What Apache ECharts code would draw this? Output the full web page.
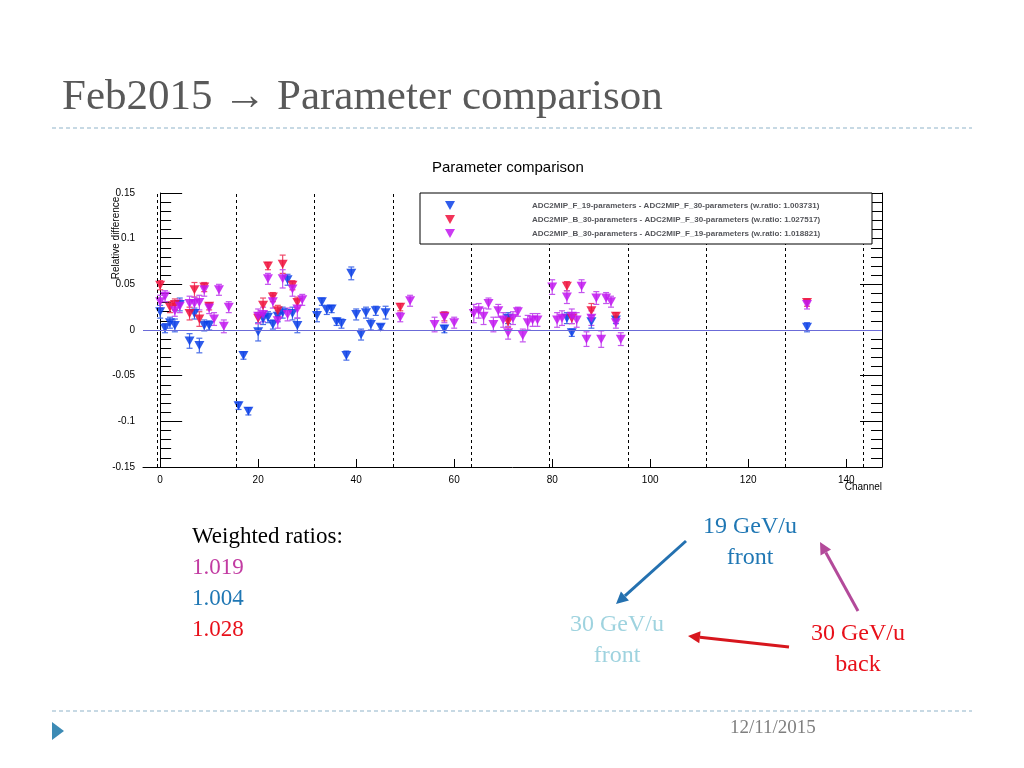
<!DOCTYPE html>
<html><head><meta charset="utf-8">
<script src="https://cdn.jsdelivr.net/npm/echarts@6/dist/echarts.min.js"></script>
<style>body{margin:0;background:#fff}#c{width:1024px;height:768px}</style>
</head><body><div id="c"></div>
<script>
// [channel, relative difference, error]
var blueF19F30 = [[0,0.020,0.007],[1,0.002,0.005],[2,0.008,0.006],[3,0.005,0.007],[4,0.028,0.007],[6,-0.012,0.008],[8,-0.017,0.008],[7,0.018,0.006],[9,0.005,0.006],[10,0.005,0.005],
  [16,-0.083,0.004],[17,-0.028,0.004],[18,-0.089,0.004],[20,-0.002,0.01],[21,0.012,0.006],[22,0.014,0.006],[23,0.006,0.005],[24,0.015,0.006],[25,0.019,0.006],[26,0.055,0.006],[27,0.018,0.007],[28,0.005,0.008],
  [32,0.016,0.007],[33,0.031,0.004],[34,0.022,0.005],[35,0.023,0.004],[36,0.009,0.004],[37,0.007,0.005],[38,-0.028,0.005],[39,0.062,0.007],[40,0.017,0.006],[41,-0.005,0.006],[42,0.019,0.006],[43,0.006,0.006],[44,0.021,0.005],[45,0.003,0.003],[46,0.019,0.007],
  [58,0.001,0.004],[71,0.013,0.006],[83,0.013,0.006],[84,-0.003,0.004],[88,0.009,0.007],[93,0.011,0.004],[132,0.003,0.005]];
var redB30F30 = [[0,0.049,0.005],[2,0.025,0.006],[3,0.028,0.006],[6,0.018,0.007],[7,0.044,0.008],[8,0.012,0.008],[9,0.047,0.005],[10,0.026,0.004],
  [20,0.013,0.006],[21,0.027,0.008],[22,0.070,0.004],[23,0.036,0.005],[24,0.021,0.006],[25,0.072,0.01],[27,0.049,0.005],[28,0.030,0.006],
  [49,0.025,0.004],[58,0.015,0.005],[71,0.009,0.006],[83,0.048,0.005],[84,0.013,0.006],[88,0.021,0.008],[93,0.015,0.004],[132,0.030,0.004]];
var magB30F19 = [[0,0.031,0.007],[1,0.037,0.006],[3,0.021,0.006],[4,0.026,0.007],[6,0.029,0.008],[7,0.029,0.007],[8,0.030,0.008],[9,0.044,0.007],[10,0.024,0.006],[11,0.012,0.007],[12,0.044,0.006],[13,0.004,0.007],[14,0.025,0.006],
  [20,0.015,0.008],[21,0.017,0.008],[22,0.056,0.006],[23,0.031,0.007],[24,0.010,0.008],[25,0.056,0.01],[26,0.017,0.007],[27,0.045,0.008],[28,0.023,0.01],[29,0.033,0.006],
  [49,0.014,0.005],[51,0.032,0.006],[56,0.006,0.008],[58,0.014,0.006],[60,0.008,0.006],
  [64,0.018,0.01],[65,0.021,0.008],[66,0.015,0.009],[67,0.029,0.006],[68,0.006,0.008],[69,0.021,0.007],[70,0.011,0.008],[71,-0.003,0.007],[72,0.013,0.007],[73,0.020,0.005],[74,-0.006,0.007],[75,0.008,0.008],[76,0.011,0.007],[77,0.011,0.007],
  [80,0.047,0.008],[81,0.011,0.008],[82,0.013,0.008],[83,0.036,0.007],[84,0.015,0.008],[85,0.011,0.008],[86,0.048,0.007],[87,-0.010,0.008],[88,0.013,0.008],[89,0.035,0.007],[90,-0.010,0.009],[91,0.035,0.006],[92,0.031,0.006],[93,0.008,0.006],[94,-0.010,0.007],[132,0.028,0.005]];
var seriesNames = ['ADC2MIP_F_19-parameters - ADC2MIP_F_30-parameters (w.ratio: 1.003731)',
  'ADC2MIP_B_30-parameters - ADC2MIP_F_30-parameters (w.ratio: 1.027517)',
  'ADC2MIP_B_30-parameters - ADC2MIP_F_19-parameters (w.ratio: 1.018821)'];
var boardEdges = [-0.5,15.5,31.5,47.5,63.5,79.5,95.5,111.5,127.5,143.5];
var xTicks = [0,20,40,60,80,100,120,140];

var tri = 'path://M0,0 L10,0 L5,9 Z';
var chart = echarts.init(document.getElementById('c'));

function errSeries(data, color){
  return {
    type:'custom', data:data, z:2, silent:true,
    renderItem:function(params, api){
      var x = api.value(0), y = api.value(1), e = api.value(2);
      var top = api.coord([x, y+e]), bot = api.coord([x, y-e]);
      return {type:'group', children:[
        {type:'line', shape:{x1:top[0],y1:top[1],x2:bot[0],y2:bot[1]}, style:{stroke:color,lineWidth:1.2}},
        {type:'line', shape:{x1:top[0]-3,y1:top[1],x2:top[0]+3,y2:top[1]}, style:{stroke:color,lineWidth:1.2}},
        {type:'line', shape:{x1:bot[0]-3,y1:bot[1],x2:bot[0]+3,y2:bot[1]}, style:{stroke:color,lineWidth:1.2}}
      ]};
    }
  };
}
function pts(name, data, color){
  return {type:'scatter', name:name, data:data, symbol:tri, symbolSize:[10,9], z:3,
    itemStyle:{color:color, opacity:0.85}};
}
var serif = '"Liberation Serif","DejaVu Serif",serif';
var sans = 'Arial, "Liberation Sans"';
function arrow(x1,y1,x2,y2,color){
  var a = Math.atan2(y2-y1,x2-x1), L = 12, W = 6;
  var bx = x2 - L*Math.cos(a), by = y2 - L*Math.sin(a);
  return [
    {type:'line', shape:{x1:x1,y1:y1,x2:bx,y2:by}, style:{stroke:color,lineWidth:3}},
    {type:'polygon', shape:{points:[[x2,y2],[bx+W*Math.sin(a),by-W*Math.cos(a)],[bx-W*Math.sin(a),by+W*Math.cos(a)]]}, style:{fill:color}}
  ];
}
var g = [
  {type:'text', left:62, top:76, style:{text:'Feb2015 \u2192 Parameter comparison', font:'43px '+serif, fill:'#595959'}},
  {type:'line', shape:{x1:52,y1:128,x2:972,y2:128}, style:{stroke:'#8fb3c9',lineWidth:1,lineDash:[4,3]}},
  {type:'line', shape:{x1:52,y1:711,x2:972,y2:711}, style:{stroke:'#8fb3c9',lineWidth:1,lineDash:[4,3]}},
  {type:'polygon', shape:{points:[[52,722],[52,740],[64,731]]}, style:{fill:'#3d8bb5'}},
  {type:'text', left:730, top:719, style:{text:'12/11/2015', font:'19px '+serif, fill:'#7f7f7f'}},
  {type:'text', left:432, top:160, style:{text:'Parameter comparison', font:'15px '+sans, fill:'#000'}},
  {type:'text', x:116, y:238, rotation:Math.PI/2, style:{text:'Relative difference', font:'10px '+sans, fill:'#000', align:'center', verticalAlign:'middle'}},
  {type:'text', right:1024-882, top:482, style:{text:'Channel', font:'10px '+sans, fill:'#000'}},
  {type:'rect', shape:{x:420,y:193,width:452,height:51}, style:{fill:'#fff',stroke:'#000',lineWidth:1}, z:10},
  {type:'text', left:192, top:525, style:{text:'Weighted ratios:', font:'23px '+serif, fill:'#000'}},
  {type:'text', left:192, top:556, style:{text:'1.019', font:'23px '+serif, fill:'#c23ba2'}},
  {type:'text', left:192, top:587, style:{text:'1.004', font:'23px '+serif, fill:'#1f77b4'}},
  {type:'text', left:192, top:618, style:{text:'1.028', font:'23px '+serif, fill:'#e8101a'}},
  {type:'text', x:750, y:511, style:{text:'19 GeV/u\nfront', font:'24px '+serif, fill:'#1f77b4', align:'center', lineHeight:31}},
  {type:'text', x:617, y:609, style:{text:'30 GeV/u\nfront', font:'24px '+serif, fill:'#9fd3df', align:'center', lineHeight:31}},
  {type:'text', x:858, y:618, style:{text:'30 GeV/u\nback', font:'24px '+serif, fill:'#e8101a', align:'center', lineHeight:31}}
].concat(arrow(686,541,616,604,'#2471b0'), arrow(789,647,688,636,'#d7161d'), arrow(858,611,820,542,'#b34a9a'));

chart.setOption({
  animation:false,
  grid:{left:143,right:142,top:193,bottom:301},
  legend:{orient:'vertical', left:440, top:196, itemGap:5, itemWidth:10, itemHeight:9, z:20,
    data:seriesNames.map(function(n){return {name:n, icon:tri};}),
    textStyle:{fontSize:8, fontWeight:'bold', fontFamily:sans, padding:[0,0,0,72]}},
  xAxis:{type:'value', min:-3.5, max:147.3,
    axisLine:{onZero:false, lineStyle:{color:'#000'}},
    axisTick:{inside:true, length:8, customValues:xTicks, lineStyle:{color:'#000'}},
    axisLabel:{customValues:xTicks, fontSize:10, color:'#000', fontFamily:sans},
    splitLine:{show:false}},
  yAxis:[{type:'value', min:-0.15, max:0.15, interval:0.05,
    axisLine:{show:true, lineStyle:{color:'#000'}},
    axisTick:{inside:true, length:22, lineStyle:{color:'#000'}},
    minorTick:{show:true, splitNumber:5, length:11, lineStyle:{color:'#000'}},
    axisLabel:{fontSize:10, color:'#000', fontFamily:sans, formatter:function(v){return +v.toFixed(2)+'';}},
    splitLine:{show:false}},
   {type:'value', min:-0.15, max:0.15, interval:0.05, position:'right',
    axisLine:{show:true, lineStyle:{color:'#000'}},
    axisTick:{inside:true, length:22, lineStyle:{color:'#000'}},
    minorTick:{show:true, splitNumber:5, length:11, lineStyle:{color:'#000'}},
    axisLabel:{show:false}, splitLine:{show:false}}],
  graphic:g,
  series:[
    errSeries(blueF19F30,'#4a6fe8'), errSeries(redB30F30,'#f04a6a'), errSeries(magB30F19,'#c455ee'),
    pts(seriesNames[0], blueF19F30, '#0b40e8'),
    pts(seriesNames[1], redB30F30, '#f0103c'),
    pts(seriesNames[2], magB30F19, '#c218f0'),
    {type:'line', data:[], silent:true, markLine:{silent:true, symbol:'none', label:{show:false},
      data:[{yAxis:0, lineStyle:{color:'#6b6bd8', type:'solid', width:1.2}}].concat(
        boardEdges.map(function(v){return {xAxis:v, lineStyle:{color:'#000', type:[3,3], width:1}};}))}},
    {type:'line', xAxisIndex:0, yAxisIndex:1, data:[]}
  ]
});
</script></body></html>
